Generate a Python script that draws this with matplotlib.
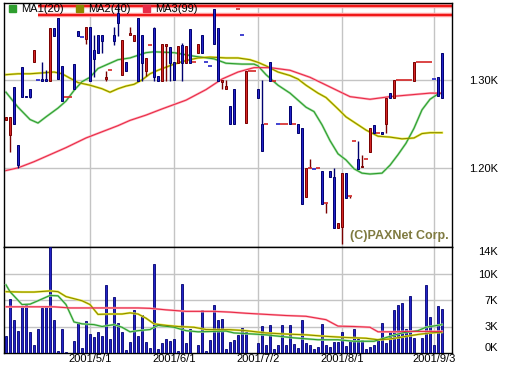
import matplotlib
matplotlib.use('Agg')
import matplotlib.pyplot as plt
from matplotlib.patches import Rectangle

plt.rcParams['font.family'] = ['Liberation Sans', 'DejaVu Sans']

# daily OHLC (won) and volume, one entry per trading day
open_ = [1255, 1237, 1292, 1226, 1315, 1282, 1290, 1320, 1300, 1301,
         1301, 1299, 1359, 1370, 1316, 1281, 1281, 1318, 1356, 1349,
         1347, 1360, 1334, 1351, 1351, 1301, 1311, 1351, 1376, 1306,
         1320, 1351, 1344, 1370, 1351, 1310, 1340, 1359, 1305, 1299,
         1339, 1338, 1320, 1319, 1340, 1319, 1358, 1320, 1331, 1351,
         1320, 1316, 1381, 1359, 1298, 1290, 1270, 1290, 1381, 1351,
         1251, 1310, 1310, 1290, 1250, 1250, 1320, 1299, 1250, 1250,
         1250, 1270, 1250, 1250, 1245, 1167, 1200, 1199, 1200, 1196,
         1160, 1196, 1190, 1132, 1133, 1194, 1168, 1230, 1210, 1201,
         1210, 1218, 1249, 1240, 1241, 1250, 1285, 1280, 1300, 1300,
         1300, 1300, 1299, 1320, 1320, 1320, 1320, 1301, 1303, 1331]
high = [1258, 1258, 1292, 1226, 1315, 1282, 1290, 1334, 1300, 1320,
        1311, 1359, 1359, 1370, 1316, 1281, 1281, 1318, 1356, 1349,
        1360, 1360, 1351, 1351, 1351, 1310, 1311, 1360, 1385, 1345,
        1320, 1360, 1351, 1370, 1351, 1325, 1340, 1360, 1305, 1341,
        1341, 1338, 1320, 1339, 1342, 1339, 1358, 1320, 1341, 1351,
        1320, 1316, 1381, 1359, 1300, 1300, 1270, 1290, 1381, 1351,
        1310, 1310, 1310, 1290, 1300, 1250, 1320, 1299, 1250, 1250,
        1250, 1270, 1250, 1250, 1245, 1200, 1210, 1199, 1200, 1196,
        1160, 1196, 1200, 1137, 1194, 1194, 1168, 1230, 1230, 1215,
        1210, 1245, 1249, 1240, 1241, 1280, 1285, 1300, 1300, 1300,
        1300, 1300, 1320, 1320, 1320, 1320, 1320, 1301, 1303, 1331]
low = [1255, 1218, 1250, 1200, 1281, 1281, 1280, 1320, 1300, 1299,
       1299, 1299, 1350, 1301, 1276, 1281, 1281, 1290, 1350, 1349,
       1341, 1299, 1303, 1331, 1331, 1299, 1311, 1340, 1350, 1306,
       1310, 1351, 1344, 1299, 1299, 1305, 1340, 1299, 1299, 1299,
       1299, 1299, 1300, 1319, 1299, 1319, 1319, 1320, 1331, 1331,
       1320, 1316, 1341, 1299, 1290, 1290, 1250, 1250, 1381, 1351,
       1251, 1310, 1310, 1280, 1219, 1250, 1299, 1299, 1250, 1250,
       1250, 1250, 1250, 1240, 1159, 1167, 1200, 1199, 1200, 1159,
       1149, 1190, 1132, 1132, 1113, 1166, 1166, 1230, 1199, 1201,
       1210, 1218, 1240, 1240, 1239, 1240, 1280, 1280, 1300, 1300,
       1300, 1300, 1299, 1320, 1320, 1320, 1320, 1301, 1282, 1280]
close = [1258, 1258, 1250, 1203, 1281, 1281, 1281, 1334, 1300, 1299,
         1299, 1359, 1350, 1301, 1276, 1281, 1281, 1290, 1350, 1349,
         1360, 1299, 1324, 1331, 1344, 1303, 1311, 1344, 1365, 1345,
         1310, 1353, 1351, 1299, 1319, 1325, 1340, 1303, 1299, 1341,
         1341, 1319, 1300, 1339, 1319, 1339, 1319, 1320, 1341, 1331,
         1320, 1316, 1341, 1299, 1300, 1293, 1250, 1250, 1381, 1351,
         1310, 1310, 1310, 1280, 1219, 1250, 1299, 1299, 1250, 1250,
         1250, 1250, 1250, 1240, 1159, 1200, 1200, 1199, 1200, 1159,
         1160, 1190, 1132, 1137, 1194, 1166, 1168, 1230, 1199, 1202,
         1210, 1245, 1240, 1240, 1239, 1280, 1280, 1300, 1300, 1300,
         1300, 1300, 1320, 1320, 1320, 1320, 1320, 1301, 1282, 1280]
volume = [2190, 7170, 4400, 2950, 6150, 6380, 2770, 1000, 3200, 5940,
          6240, 13940, 4400, 300, 3200, 130, 0, 1530, 4090, 660,
          4260, 2500, 2060, 2770, 2190, 8920, 1890, 7340, 3910, 2770,
          440, 1450, 5720, 2190, 5060, 1450, 660, 11790, 570, 1270,
          1890, 1530, 1890, 300, 9110, 1270, 3200, 0, 1000, 5720,
          300, 1660, 6380, 4400, 4530, 570, 1400, 1660, 2320, 3300,
          2770, 0, 0, 1320, 3510, 1000, 3740, 570, 1000, 3740,
          1100, 3650, 1230, 660, 4400, 1320, 1000, 570, 740, 3830,
          1000, 830, 1450, 1450, 2770, 870, 1660, 3200, 1890, 1760,
          570, 830, 1000, 1660, 3960, 1320, 2950, 5650, 6300, 6650,
          3180, 7560, 2000, 0, 2000, 9020, 4800, 1100, 6150, 5850]

# moving averages (day index, value)
ma1_x = [0, 3, 6, 8, 10, 13, 15, 17, 19, 21, 23, 25, 28, 31, 35, 37, 42, 47, 52, 55,
         59, 62, 63, 65, 68, 71, 73, 75, 77, 79, 81, 83, 85, 87, 89, 91, 94, 96, 98,
         100, 102, 104, 106, 108, 109]
ma1 = [1286, 1269, 1255, 1251, 1258, 1268, 1276, 1288, 1298, 1303, 1313, 1317, 1323,
       1325, 1331, 1332, 1331, 1327, 1324, 1319, 1318, 1318, 1316, 1306, 1294, 1285,
       1277, 1269, 1264, 1249, 1231, 1216, 1209, 1199, 1194, 1193, 1194, 1203, 1215,
       1228, 1245, 1266, 1278, 1284, 1285]
ma2_x = [0, 3, 6, 9, 12, 14, 16, 18, 21, 24, 26, 28, 30, 32, 34, 36, 38, 42, 45, 48,
         51, 55, 58, 61, 63, 65, 68, 71, 73, 75, 78, 80, 83, 85, 88, 90, 93, 96, 99,
         102, 104, 106, 109]
ma2 = [1306, 1307, 1307, 1308, 1309, 1307, 1302, 1297, 1294, 1290, 1286, 1290, 1293,
       1295, 1300, 1307, 1311, 1318, 1322, 1325, 1326, 1325, 1325, 1323, 1320, 1316,
       1309, 1305, 1301, 1294, 1285, 1280, 1267, 1258, 1249, 1243, 1236, 1235, 1233,
       1234, 1239, 1240, 1240]
ma3_x = [0, 3, 7, 11, 15, 20, 24, 28, 31, 35, 39, 45, 50, 54, 58, 62, 66, 71, 76, 81,
         86, 91, 96, 101, 106, 109]
ma3 = [1197, 1200, 1207, 1215, 1223, 1234, 1241, 1248, 1254, 1260, 1267, 1277, 1289,
       1301, 1309, 1314, 1314, 1311, 1303, 1292, 1281, 1278, 1281, 1283, 1285, 1285]

vma1_x = [0, 1, 4, 6, 8, 11, 13, 15, 17, 19, 22, 24, 27, 29, 31, 33, 36, 38, 42, 45,
          48, 52, 55, 57, 62, 65, 72, 78, 83, 87, 92, 96, 99, 103, 105, 109]
vma1 = [9000, 8100, 6400, 6450, 6900, 7600, 7550, 6400, 4100, 3850, 3750, 3500, 3750,
        3400, 2800, 2950, 3100, 3650, 3400, 2950, 2800, 2850, 2900, 2650, 2500, 2400,
        2000, 1750, 1750, 1550, 1550, 2200, 2650, 2950, 3400, 3750]
vma2_x = [0, 4, 7, 11, 13, 15, 19, 21, 23, 26, 29, 31, 33, 35, 37, 40, 43, 47, 50, 56,
          60, 65, 70, 75, 80, 85, 90, 93, 96, 100, 103, 106, 109]
vma2 = [8100, 8050, 8050, 8200, 8100, 7450, 6900, 6400, 5100, 5150, 5150, 5300, 5150,
        4600, 3850, 3650, 3500, 3400, 3100, 3080, 2950, 2650, 2500, 2400, 2200, 2050,
        1950, 1750, 1850, 2200, 2450, 2650, 2750]
vma3_x = [0, 8, 12, 16, 24, 33, 36, 40, 45, 52, 56, 60, 70, 75, 80, 83, 87, 91, 93, 97,
          101, 109]
vma3 = [6100, 6100, 6100, 5950, 5950, 5950, 5900, 5700, 5500, 5500, 5400, 5250, 4950,
        4850, 4400, 3550, 3500, 3400, 2800, 2800, 2850, 2850]

# stray MA3 levels clipped at the top of the chart
spike_levels = [1384, 1374]
spike_start = 8

date_pos = [21, 42, 63, 84, 107]
date_labels = ['2001/5/1', '2001/6/1', '2001/7/2', '2001/8/1', '2001/9/3']
price_ticks = [1200, 1300]
price_labels = ['1.20K', '1.30K']
vol_ticks = [0, 3500, 7000, 10500, 14000]
vol_labels = ['0K', '3K', '7K', '10K', '14K']
legend_names = ['MA1(20)', 'MA2(40)', 'MA3(99)']

up_fill, up_edge = '#d42626', '#7a0000'
dn_fill, dn_edge = '#2222c8', '#000070'
grid_c = '#c4c4c4'
ma_cols = [('#a8e0a8', '#2e9e2e'), ('#f0f040', '#8a8a00'), ('#ffb0bc', '#e82c48')]

fig = plt.figure(figsize=(5.06, 3.66), dpi=100)
ax = fig.add_axes([4/506, 1 - 247/366, 448/506, 244/366])
axv = fig.add_axes([4/506, 13/366, 448/506, 106/366])

n = len(close)
for a in (ax, axv):
    a.set_xlim(-0.5, 111.5)
    for p in date_pos:
        a.axvline(p, color=grid_c, lw=1, zorder=0)
    for s in a.spines.values():
        s.set_color('black')
        s.set_linewidth(1)
    a.yaxis.tick_right()
    a.tick_params(length=0, labelsize=8, colors='black')

ax.set_ylim(1110, 1387.5)
for t in price_ticks:
    ax.axhline(t, color=grid_c, lw=1, zorder=0)
ax.set_yticks(price_ticks)
ax.set_yticklabels(price_labels)
ax.set_xticks([])
ax.tick_params(axis='y', pad=33)
for lab in ax.get_yticklabels():
    lab.set_horizontalalignment('right')

# moving averages (under the candles)
for xs, ys, (c0, c1) in zip([ma1_x, ma2_x, ma3_x], [ma1, ma2, ma3], ma_cols):
    ax.plot(xs, ys, color=c0, lw=1.7, zorder=1)
    ax.plot(xs, ys, color=c1, lw=0.8, zorder=2)
for lv in spike_levels:
    ax.hlines(lv, spike_start, 111.5, color='#ffa0a0', lw=3.2, zorder=1)
    ax.hlines(lv, spike_start, 111.5, color='#f01818', lw=1.5, zorder=2)

# candles
for i in range(n):
    o, h, l, c = open_[i], high[i], low[i], close[i]
    prev = close[i - 1] if i else c
    if c > o or (c == o and c >= prev):
        fill, edge = up_fill, up_edge
    else:
        fill, edge = dn_fill, dn_edge
    ax.vlines(i, l, h, color=edge, lw=1, zorder=3)
    if c == o:
        ax.hlines(c, i - 0.4, i + 0.4, color=fill, lw=1.2, zorder=4)
    else:
        ax.bar(i, abs(c - o), 0.6, bottom=min(o, c), color=fill,
               edgecolor=edge, lw=0.7, zorder=4)

ax.text(0.993, 0.045, '(C)PAXNet Corp.', transform=ax.transAxes, ha='right',
        va='center', fontsize=9, fontweight='bold', color='#7f7a40', zorder=6)

for k, (name, (c0, c1)) in enumerate(zip(legend_names, ma_cols)):
    x0 = 9 + 67 * k
    fig.add_artist(Rectangle((x0/506, 1 - 12/366), 7/506, 7/366,
                             transform=fig.transFigure, color=c1, zorder=7))
    fig.text((x0 + 12)/506, 1 - 8.5/366, name, va='center', fontsize=8, zorder=7)

# volume panel
axv.set_ylim(0, 14000)
for t in vol_ticks[1:-1]:
    axv.axhline(t, color=grid_c, lw=1, zorder=0)
axv.bar(range(n), volume, 0.6, color=dn_fill, edgecolor=dn_edge, lw=0.6, zorder=3)
for xs, ys, (c0, c1) in zip([vma1_x, vma2_x, vma3_x], [vma1, vma2, vma3], ma_cols):
    axv.plot(xs, ys, color=c0, lw=1.6, zorder=4)
    axv.plot(xs, ys, color=c1, lw=0.8, zorder=5)
axv.set_yticks(vol_ticks)
axv.set_yticklabels(vol_labels)
axv.tick_params(axis='y', pad=33)
ylabs = axv.get_yticklabels()
for lab in ylabs:
    lab.set_horizontalalignment('right')
ylabs[0].set_verticalalignment('bottom')
ylabs[-1].set_verticalalignment('top')
axv.set_xticks(date_pos)
axv.set_xticklabels(date_labels)
axv.tick_params(axis='x', pad=1)

fig.savefig('out.png', dpi=100)
